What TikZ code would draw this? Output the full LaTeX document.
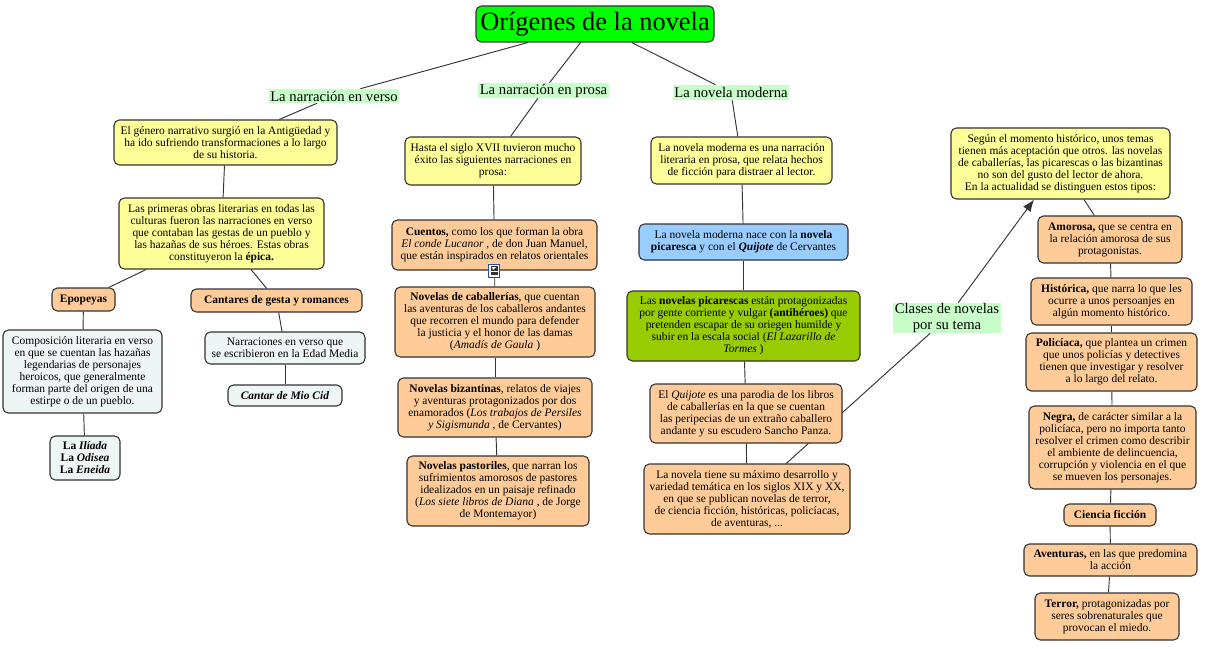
\documentclass[tikz,border=0pt]{standalone}
\usepackage{fontspec}
\setmainfont{Liberation Serif}
\usetikzlibrary{backgrounds,arrows.meta}
\definecolor{ygl}{HTML}{FFFF99}
\definecolor{org}{HTML}{FFCC99}
\definecolor{lgt}{HTML}{EEF5F5}
\definecolor{blu}{HTML}{99CCFF}
\definecolor{olv}{HTML}{99CC00}
\definecolor{tgr}{HTML}{00FF00}
\definecolor{mnt}{HTML}{C8FFC8}
\definecolor{edgec}{HTML}{333333}
\tikzset{
  base/.style={align=center,inner sep=0pt,text=black,font=\fontsize{8.6}{9}\selectfont},
  mapbox/.style={base,draw=edgec,line width=0.8pt,rounded corners=4pt},
  yel/.style={mapbox,fill=ygl},
  ora/.style={mapbox,fill=org},
  pale/.style={mapbox,fill=lgt},
  sky/.style={mapbox,fill=blu},
  olive/.style={mapbox,fill=olv},
  titlebox/.style={mapbox,fill=tgr,font=\fontsize{19.8}{22}\selectfont},
  lab/.style={base,fill=mnt,font=\fontsize{11}{12}\selectfont},
  conn/.style={draw=edgec,line width=0.7pt},
}
\newcommand{\bx}[7]{\node[#6,minimum width={(#4-#2)*0.75pt},minimum height={(#5-#3)*0.75pt}] (#1) at ({(#2+#4)/2},{(#3+#5)/2}) {#7};}
\begin{document}
\begin{tikzpicture}[x=0.75pt,y=-0.75pt]
\begin{pgfonlayer}{background}
\fill[white] (0,0) rectangle (1209,649);
\end{pgfonlayer}
\useasboundingbox (0,0) rectangle (1209,649);
\bx{title}{476}{6}{714}{42}{titlebox}{Orígenes de la novela}
\bx{lv}{269}{89}{399}{103}{lab}{La narración en verso}
\bx{lp}{478}{83}{609}{98}{lab}{La narración en prosa}
\bx{lm}{673}{85}{789}{100}{lab}{La novela moderna}
\bx{lc}{893}{303}{1001}{333}{lab}{Clases de novelas\\por su tema}
% column 1
\bx{a}{114}{120}{337}{165}{yel}{El género narrativo surgió en la Antigüedad y\\ha ido sufriendo transformaciones a lo largo\\de su historia.}
\bx{b}{119}{198}{324}{269}{yel}{Las primeras obras literarias en todas las\\culturas fueron las narraciones en verso\\que contaban las gestas de un pueblo y\\las hazañas de sus héroes. Estas obras\\constituyeron la \textbf{épica.}}
\bx{ep}{52}{288}{115}{311}{ora}{\textbf{Epopeyas}}
\bx{ca}{191}{289}{362}{312}{ora}{\textbf{Cantares de gesta y romances}}
\bx{co}{3}{330}{162}{413}{pale}{Composición literaria en verso\\en que se cuentan las hazañas\\legendarias de personajes\\heroicos, que generalmente\\forman parte del origen de una\\estirpe o de un pueblo.}
\bx{na}{205}{332}{365}{364}{pale}{Narraciones en verso que\\se escribieron en la Edad Media}
\bx{ci}{228}{385}{342}{406}{pale}{\textbf{\textit{Cantar de Mio Cid}}}
\bx{il}{50}{436}{120}{480}{pale}{\textbf{La \textit{Ilíada}}\\\textbf{La \textit{Odisea}}\\\textbf{La \textit{Eneida}}}
% column 2
\bx{h}{405}{137}{581}{185}{yel}{Hasta el siglo XVII tuvieron mucho\\éxito las siguientes narraciones en\\prosa:}
\bx{cu}{392}{220}{597}{270}{ora}{\textbf{Cuentos,} como los que forman la obra\\\textit{El conde Lucanor} , de don Juan Manuel,\\que están inspirados en relatos orientales}
\bx{nc}{395}{287}{595}{357}{ora}{\textbf{Novelas de caballerías}, que cuentan\\las aventuras de los caballeros andantes\\que recorren el mundo para defender\\la justicia y el honor de las damas\\(\textit{Amadís de Gaula} )}
\bx{nb}{398}{378}{592}{437}{ora}{\textbf{Novelas bizantinas}, relatos de viajes\\y aventuras protagonizados por dos\\enamorados (\textit{Los trabajos de Persiles}\\\textit{y Sigismunda} , de Cervantes)}
\bx{np}{407}{456}{589}{526}{ora}{\textbf{Novelas pastoriles}, que narran los\\sufrimientos amorosos de pastores\\idealizados en un paisaje refinado\\(\textit{Los siete libros de Diana} , de Jorge\\de Montemayor)}
% column 3
\bx{m}{651}{137}{832}{184}{yel}{La novela moderna es una narración\\literaria en prosa, que relata hechos\\de ficción para distraer al lector.}
\bx{nn}{639}{224}{848}{260}{sky}{La novela moderna nace con la \textbf{novela}\\\textbf{picaresca} y con el \textbf{\textit{Quijote}} de Cervantes}
\bx{pi}{627}{291}{860}{361}{olive}{Las \textbf{novelas picarescas} están protagonizadas\\por gente corriente y vulgar \textbf{(antihéroes)} que\\pretenden escapar de su oriegen humilde y\\subir en la escala social (\textit{El Lazarillo de}\\\textit{Tormes} )}
\bx{qu}{650}{384}{842}{443}{ora}{El \textit{Quijote} es una parodia de los libros\\de caballerías en la que se cuentan\\las peripecias de un extraño caballero\\andante y su escudero Sancho Panza.}
\bx{mx}{644}{464}{850}{534}{ora}{La novela tiene su máximo desarrollo y\\variedad temática en los siglos XIX y XX,\\en que se publican novelas de terror,\\de ciencia ficción, históricas, policíacas,\\de aventuras, ...}
% column 4
\bx{s}{951}{128}{1170}{199}{yel}{Según el momento histórico, unos temas\\tienen más aceptación que otros. las novelas\\de caballerías, las picarescas o las bizantinas\\no son del gusto del lector de ahora.\\En la actualidad se distinguen estos tipos:}
\bx{am}{1038}{216}{1182}{263}{ora}{\textbf{Amorosa,} que se centra en\\la relación amorosa de sus\\protagonistas.}
\bx{hi}{1031}{278}{1192}{325}{ora}{\textbf{Histórica,} que narra lo que les\\ocurre a unos persoanjes en\\algún momento histórico.}
\bx{po}{1026}{333}{1197}{391}{ora}{\textbf{Policíaca,} que plantea un crimen\\que unos policías y detectives\\tienen que investigar y resolver\\a lo largo del relato.}
\bx{ne}{1029}{406}{1196}{489}{ora}{\textbf{Negra,} de carácter similar a la\\policíaca, pero no importa tanto\\resolver el crimen como describir\\el ambiente de delincuencia,\\corrupción y violencia en el que\\se mueven los personajes.}
\bx{cf}{1064}{504}{1156}{526}{ora}{\textbf{Ciencia ficción}}
\bx{av}{1024}{544}{1197}{576}{ora}{\textbf{Aventuras,} en las que predomina\\la acción}
\bx{te}{1035}{593}{1179}{640}{ora}{\textbf{Terror,} protagonizadas por\\seres sobrenaturales que\\provocan el miedo.}
% small note icon
\fill[white,draw={rgb,255:red,40;green,80;blue,160},line width=0.7pt] (488.5,264) rectangle (499.5,277);
\fill[black!80] (490.5,266) rectangle (497.5,270.5);
\fill[black!80] (490.5,272) rectangle (497.5,275);
\fill[white] (492,267) -- (496,267) -- (493,270) -- cycle;
\begin{pgfonlayer}{background}
\foreach \u/\v in {title/lv,title/lp,title/lm,lv/a,a/b,b/ep,b/ca,ep/co,co/il,ca/na,na/ci,
  lp/h,h/cu,cu/nc,nc/nb,nb/np,
  lm/m,m/nn,nn/pi,pi/qu,qu/mx,mx/lc,
  s/am,am/hi,hi/po,po/ne,ne/cf,cf/av,av/te}
  \draw[conn] (\u) -- (\v);
\draw[conn,-{Latex[length=9pt,width=7pt]}] (lc) -- (s);
\end{pgfonlayer}
\end{tikzpicture}
\end{document}
